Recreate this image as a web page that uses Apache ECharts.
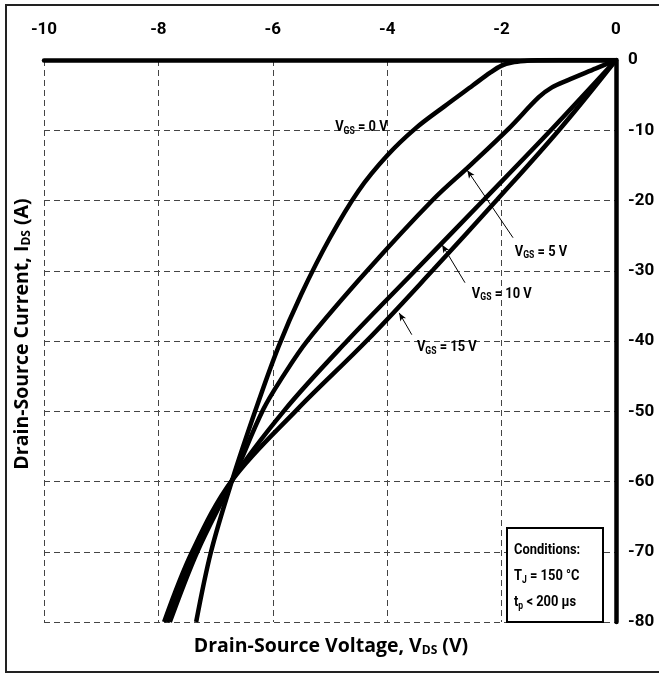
<!DOCTYPE html>
<html>
<head>
<meta charset="utf-8">
<script src="https://cdn.jsdelivr.net/npm/echarts@6/dist/echarts.min.js"></script>
<style>
html, body { margin: 0; padding: 0; background: #fff; }
#chart { width: 659px; height: 673px; }
</style>
</head>
<body>
<div id="chart"></div>
<script>
// Third-quadrant output characteristics: [V_DS (V), I_DS (A)]
const vgs0 = [[0,0],[-1.0,0],[-1.35,-0.04],[-1.6,-0.13],[-1.82,-0.35],[-2.0,-0.8],[-2.2,-1.8],[-2.5,-3.6],
  [-3.0,-6.6],[-3.5,-9.7],[-4.0,-13.6],[-4.5,-18.6],[-5.0,-25.3],[-5.5,-33.3],[-5.9,-40.8],[-6.3,-49.8],
  [-6.71,-59.8],[-7.08,-70.0],[-7.34,-80.0]];
const vgs5 = [[0,0],[-0.35,-1.2],[-0.85,-2.9],[-1.12,-3.9],[-1.35,-5.3],[-1.88,-9.8],[-2.55,-15.0],
  [-3.20,-19.9],[-4.34,-29.9],[-5.39,-39.9],[-5.82,-45.0],[-6.17,-49.8],[-6.71,-59.8],[-7.32,-70.0],
  [-7.80,-80.0]];
const vgs10 = [[0,0],[-1.12,-9.82],[-2.31,-19.9],[-3.50,-29.9],[-4.69,-39.9],[-5.79,-49.8],
  [-6.71,-59.8],[-7.38,-70.0],[-7.85,-80.0]];
const vgs15 = [[0,0],[-0.98,-9.82],[-2.08,-19.9],[-3.20,-29.9],[-4.35,-39.9],[-5.58,-49.8],
  [-6.71,-59.8],[-7.41,-70.0],[-7.90,-80.0]];

// Curve labels (gate voltage) and their left-middle anchor points
const gateVoltages = ['0', '5', '10', '15'];
const labelAnchors = [[-4.91,-9.54],[-1.77,-27.3],[-2.52,-33.3],[-3.48,-40.9]];
// Leader arrows: [tail, tip]
const leaderArrows = [
  [[-1.80,-25.3],[-2.60,-15.7]],
  [[-2.64,-31.7],[-3.04,-26.3]],
  [[-3.57,-39.1],[-3.79,-36.0]]
];
// Test conditions
const conditionLines = ['Conditions:', '{v|T}{s|J}{v| = 150 °C}', '{v|t}{s|p}{v| < 200 µs}'];

// Axis ranges
const vMin = -10, vMax = 0, vStep = 2;
const iMin = -80, iMax = 0, iStep = 10;

const tickFont = "Roboto, 'Liberation Sans', sans-serif";
const noteFont = "Roboto, 'Liberation Sans', sans-serif";
const titleFont = "'Open Sans', Lato, sans-serif";

const chart = echarts.init(document.getElementById('chart'), null, { renderer: 'canvas' });

function curve(name, data) {
  return {
    name: name,
    type: 'line',
    data: data,
    smooth: 0.35,
    symbol: 'none',
    lineStyle: { color: '#000', width: 4.5 },
    z: 3,
    silent: true,
    animation: false
  };
}

const noteRich = {
  v: { fontFamily: noteFont, fontWeight: 'bold', fontSize: 15, fill: '#000' },
  s: { fontFamily: noteFont, fontWeight: 'bold', fontSize: 10, fill: '#000', padding: [8, 0, 0, 0] }
};
const titleRich = {
  t: { fontFamily: titleFont, fontWeight: 'bold', fontSize: 19.5, fill: '#000' },
  u: { fontFamily: titleFont, fontWeight: 'bold', fontSize: 12, fill: '#000', padding: [9, 0, 0, 0] }
};

chart.setOption({
  animation: false,
  backgroundColor: '#fff',
  grid: { left: 44, right: 43, top: 60, bottom: 51, containLabel: false },
  xAxis: {
    type: 'value',
    position: 'top',
    min: vMin, max: vMax, interval: vStep,
    axisLine: { show: true, onZero: false, lineStyle: { color: '#000', width: 4.5 } },
    axisTick: { show: false },
    axisLabel: { margin: 22, fontFamily: tickFont, fontWeight: 'bold', fontSize: 17, color: '#000' },
    splitLine: { show: true, lineStyle: { color: '#444', width: 1, type: [6, 4] } }
  },
  yAxis: {
    type: 'value',
    position: 'right',
    min: iMin, max: iMax, interval: iStep,
    axisLine: { show: true, onZero: false, lineStyle: { color: '#000', width: 4.5 } },
    axisTick: { show: false },
    axisLabel: { margin: 12, fontFamily: tickFont, fontWeight: 'bold', fontSize: 17, color: '#000', align: 'left' },
    splitLine: { show: true, lineStyle: { color: '#444', width: 1, type: [6, 4] } }
  },
  series: [
    curve('V_GS = 0 V', vgs0),
    curve('V_GS = 5 V', vgs5),
    curve('V_GS = 10 V', vgs10),
    curve('V_GS = 15 V', vgs15),
    {
      // leader arrows from the curve labels
      type: 'line',
      data: [],
      symbol: 'none',
      silent: true,
      markLine: {
        silent: true,
        symbol: ['none', 'arrow'],
        symbolSize: [5, 8],
        label: { show: false },
        lineStyle: { color: '#000', width: 1, type: 'solid' },
        data: leaderArrows.map(a => [{ coord: a[0] }, { coord: a[1] }])
      }
    }
  ]
});

// Text annotations, placed through the chart's own coordinate conversion
const labelTexts = labelAnchors.map((p, i) => {
  const pt = chart.convertToPixel({ gridIndex: 0 }, p);
  return {
    type: 'text', x: pt[0], y: pt[1], scaleX: 0.86, silent: true, z: 11,
    style: { text: '{v|V}{s|GS}{v| = ' + gateVoltages[i] + ' V}', verticalAlign: 'middle', align: 'left', rich: noteRich }
  };
});

const boxLeft = 507, boxTop = 528;
const conditionTexts = conditionLines.map((t, i) => ({
  type: 'text', x: boxLeft + 7, y: boxTop + 22 + i * 26, scaleX: 0.86, silent: true, z: 11,
  style: { text: i === 0 ? '{v|' + t + '}' : t, verticalAlign: 'middle', align: 'left', rich: noteRich }
}));

chart.setOption({
  graphic: [
    // outer frame
    { type: 'rect', shape: { x: 6, y: 5, width: 660, height: 667 },
      style: { fill: 'none', stroke: '#222', lineWidth: 2 }, silent: true, z: 0 },
    // test conditions box
    { type: 'rect', shape: { x: boxLeft, y: boxTop, width: 96, height: 94 },
      style: { fill: '#fff', stroke: '#000', lineWidth: 2 }, silent: true, z: 10 },
    ...conditionTexts,
    ...labelTexts,
    // axis titles
    { type: 'text', x: 331, y: 646, silent: true, z: 11,
      style: { text: '{t|Drain-Source Voltage, V}{u|DS}{t| (V)}', align: 'center', verticalAlign: 'middle', rich: titleRich } },
    { type: 'text', x: 22, y: 334, rotation: Math.PI / 2, silent: true, z: 11,
      style: { text: '{t|Drain-Source Current, I}{u|DS}{t| (A)}', align: 'center', verticalAlign: 'middle', rich: titleRich } }
  ]
});
</script>
</body>
</html>
